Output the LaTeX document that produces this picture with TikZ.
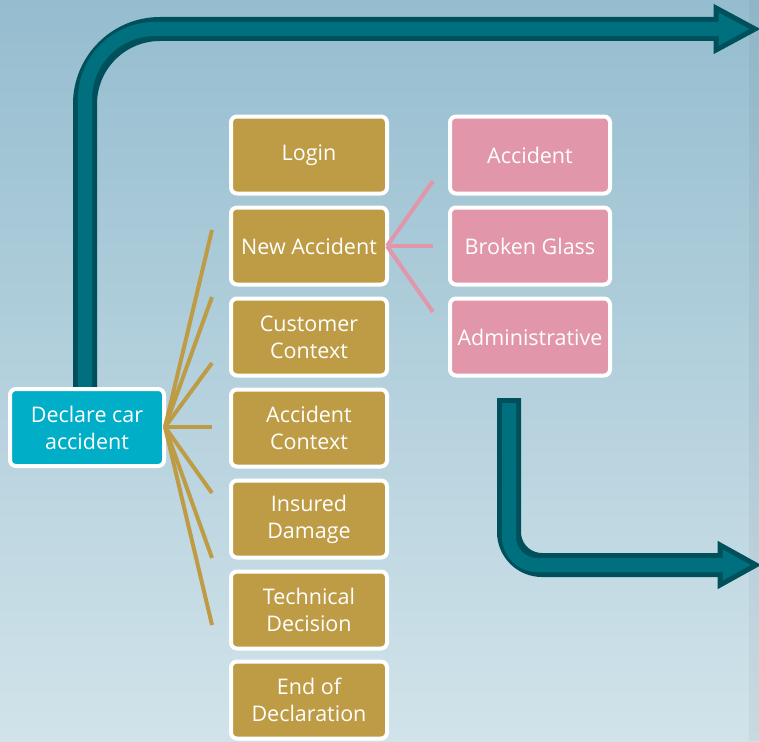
\documentclass[tikz,border=0pt]{standalone}
\usepackage{fontspec}
\setmainfont{Open Sans}
\definecolor{bgtop}{HTML}{95BDCF}
\definecolor{bgmid}{HTML}{B2D0DD}
\definecolor{bgbot}{HTML}{D1E3EA}
\definecolor{gold}{HTML}{BE9C45}
\definecolor{rose}{HTML}{E196A9}
\definecolor{cyanbox}{HTML}{00AFC7}
\definecolor{teal}{HTML}{01707E}
\definecolor{tealdark}{HTML}{00505C}

\begin{document}
\begin{tikzpicture}[x=1pt,y=-1pt]
        \tikzstyle{box}=[text=white, font=\fontsize{21.5}{27}\selectfont, align=center, draw=white, line width=4pt, rounded corners=6pt, minimum height=77pt, inner sep=1pt]
        \tikzstyle{stepgold}=[box, fill=gold, minimum width=156pt]
        \tikzstyle{steprose}=[box, fill=rose, minimum width=160pt]
        \tikzstyle{branch}=[line width=4pt]
        \tikzstyle{shaft}=[line width=24pt, tealdark]
        \tikzstyle{core}=[line width=14pt, teal]
        \tikzstyle{head}=[fill=teal, draw=tealdark, line width=5pt, line join=miter]
        % background
        \useasboundingbox (0,0) rectangle (759,741);
        \shade[top color=bgtop, middle color=bgmid, bottom color=bgbot] (0,0) rectangle (759,741);
        \fill[black, opacity=0.04] (749,0) rectangle (759,741);
        % big arrows
        \coordinate (upstart) at (85,400);
        \coordinate (upend) at (716,29);
        \coordinate (downstart) at (509,398);
        \coordinate (downend) at (720,565);
        \draw[shaft, rounded corners=75pt] (upstart) |- (upend);
        \filldraw[head] (716,8) -- (755,29) -- (716,50) -- cycle;
        \draw[core, rounded corners=70pt] (upstart) |- ([xshift=6pt]upend);
        \draw[shaft, rounded corners=33pt] (downstart) |- (downend);
        \filldraw[head] (720,545) -- (756,565) -- (720,585) -- cycle;
        \draw[core, rounded corners=28pt] ([yshift=-5pt]downstart) |- ([xshift=6pt]downend);
        % steps
        \node[box, fill=cyanbox, minimum width=154pt] (declare) at (87,427.5) {Declare car\\accident};
        \node[stepgold] (login) at (309,155) {Login};
        \node[stepgold] (new) at (309,246) {New Accident};
        \node[stepgold] (customer) at (309,337) {Customer\\Context};
        \node[stepgold] (context) at (309,428) {Accident\\Context};
        \node[stepgold] (damage) at (309,519) {Insured\\Damage};
        \node[stepgold] (decision) at (309,610) {Technical\\Decision};
        \node[stepgold] (end) at (309,700) {End of\\Declaration};
        \node[steprose] (accident) at (530,155) {Accident};
        \node[steprose] (glass) at (530,246) {Broken Glass};
        \node[steprose] (admin) at (530,337) {Administrative};
        % branches
        \coordinate (root) at (165,427);
        \foreach \y [count=\i] in {230,297,363,427,493,558,625}
            \draw[branch, gold] (root) -- (212,\y) coordinate (g\i);
        \coordinate (fork) at (387,246);
        \foreach \y [count=\i] in {181,246,312}
            \draw[branch, rose] (fork) -- (433,\y) coordinate (r\i);
\end{tikzpicture}
\end{document}
